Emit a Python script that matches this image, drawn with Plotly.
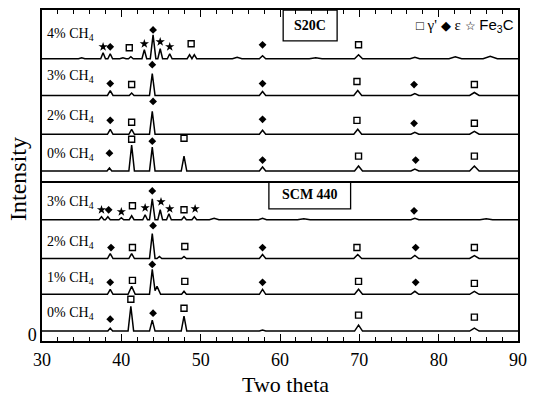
import plotly.graph_objects as go

# ---------------- data ----------------
x_range = [30, 90]
trace_labels = ["4% CH<sub>4</sub>", "3% CH<sub>4</sub>", "2% CH<sub>4</sub>", "0% CH<sub>4</sub>",
                "3% CH<sub>4</sub>", "2% CH<sub>4</sub>", "1% CH<sub>4</sub>", "0% CH<sub>4</sub>"]
trace_offsets = [278, 241, 202, 165, 116, 77, 41, 4]
label_offsets = [24, 19, 18, 17, 17, 16, 16, 18]

# peak positions (2theta), intensities and half widths of each pattern
s20c_4_pos = [35.0, 37.7, 38.6, 40.2, 41.2, 42.9, 44.0, 44.9, 46.1, 48.6, 49.2, 54.6, 57.8, 64.5, 69.9, 77.0, 82.1, 86.5]
s20c_4_int = [1, 6, 5, 1, 2, 9, 24, 10, 5, 4, 4, 1.5, 3, 1, 4, 1.5, 2, 2.5]
s20c_4_hw = [0.4, 0.3, 0.3, 0.4, 0.3, 0.3, 0.35, 0.3, 0.3, 0.3, 0.3, 0.6, 0.4, 0.8, 0.5, 0.6, 0.8, 0.9]

s20c_3_pos = [38.6, 41.3, 43.9, 57.8, 69.8, 77.0, 84.5]
s20c_3_int = [5, 2.5, 22, 4, 5, 2, 3]
s20c_3_hw = [0.35, 0.3, 0.35, 0.4, 0.5, 0.5, 0.6]

s20c_2_pos = [38.6, 41.3, 43.9, 57.8, 69.8, 77.0, 84.5]
s20c_2_int = [5, 5, 23, 4, 5, 2, 3]
s20c_2_hw = [0.35, 0.35, 0.35, 0.4, 0.5, 0.5, 0.6]

s20c_0_pos = [38.5, 41.3, 43.9, 47.9, 57.8, 69.9, 77.0, 84.5]
s20c_0_int = [3, 26, 24, 15, 4, 5, 2, 5]
s20c_0_hw = [0.3, 0.35, 0.35, 0.35, 0.4, 0.5, 0.5, 0.6]

scm_3_pos = [37.5, 38.3, 40.0, 41.3, 43.0, 43.9, 44.9, 46.0, 47.9, 49.2, 51.7, 57.8, 63.0, 77.0, 86.0]
scm_3_int = [3, 3, 2, 4, 5, 21, 10, 6, 3, 3, 1.5, 1.5, 1, 1.5, 1]
scm_3_hw = [0.3, 0.3, 0.3, 0.3, 0.3, 0.35, 0.3, 0.3, 0.3, 0.3, 0.6, 0.5, 0.8, 0.5, 0.8]

scm_2_pos = [38.6, 41.3, 43.9, 44.8, 47.9, 57.8, 69.8, 77.0, 84.5]
scm_2_int = [5, 5, 25, 2, 2, 4, 4, 3, 3]
scm_2_hw = [0.35, 0.35, 0.35, 0.3, 0.3, 0.4, 0.5, 0.5, 0.6]

scm_1_pos = [38.6, 41.3, 43.9, 44.5, 47.9, 57.8, 69.9, 77.0, 84.5]
scm_1_int = [5, 8, 25, 8, 3, 5, 5, 3, 3]
scm_1_hw = [0.35, 0.45, 0.35, 0.45, 0.3, 0.4, 0.5, 0.5, 0.6]

scm_0_pos = [38.6, 41.2, 43.9, 47.9, 57.8, 69.9, 84.5]
scm_0_int = [3, 25, 11, 15, 1, 6, 3]
scm_0_hw = [0.3, 0.35, 0.35, 0.35, 0.4, 0.5, 0.6]

# phase markers: position, phase (g = gamma', e = epsilon, c = Fe3C), height above the baseline
s20c_4_mk_pos = [37.7, 38.6, 41.0, 42.9, 44.0, 44.9, 46.1, 48.8, 57.8, 69.9]
s20c_4_mk_sym = ["c", "e", "g", "c", "e", "c", "c", "g", "e", "g"]
s20c_4_mk_h = [12, 12, 11, 15, 29, 17, 12, 15, 14, 14]

s20c_3_mk_pos = [38.6, 41.3, 43.9, 57.8, 69.7, 76.9, 84.5]
s20c_3_mk_sym = ["e", "g", "e", "e", "g", "e", "g"]
s20c_3_mk_h = [12, 11, 31, 12, 14, 11, 11]

s20c_2_mk_pos = [38.6, 41.3, 44.0, 57.8, 69.7, 76.9, 84.5]
s20c_2_mk_sym = ["e", "g", "e", "e", "g", "e", "g"]
s20c_2_mk_h = [14, 12, 33, 15, 14, 11, 11]

s20c_0_mk_pos = [38.5, 41.3, 43.9, 47.9, 57.8, 69.9, 77.1, 84.5]
s20c_0_mk_sym = ["e", "g", "e", "g", "e", "g", "e", "g"]
s20c_0_mk_h = [18, 32, 30, 33, 11, 15, 11, 15]

scm_3_mk_pos = [37.5, 38.4, 40.0, 41.4, 43.0, 43.9, 45.0, 46.1, 47.9, 49.3, 76.9]
scm_3_mk_sym = ["c", "e", "c", "g", "c", "e", "c", "c", "g", "c", "e"]
scm_3_mk_h = [10, 10, 8, 14, 12, 29, 18, 11, 10, 11, 9]

scm_2_mk_pos = [38.7, 41.4, 44.0, 48.0, 57.8, 69.7, 77.1, 84.5]
scm_2_mk_sym = ["e", "g", "e", "g", "e", "g", "e", "g"]
scm_2_mk_h = [11, 11, 33, 12, 11, 11, 11, 11]

scm_1_mk_pos = [38.6, 41.4, 43.9, 48.0, 57.8, 69.9, 77.1, 84.5]
scm_1_mk_sym = ["e", "g", "e", "g", "e", "g", "e", "g"]
scm_1_mk_h = [12, 14, 30, 13, 12, 13, 12, 11]

scm_0_mk_pos = [38.6, 41.2, 44.0, 47.9, 69.9, 84.5]
scm_0_mk_sym = ["e", "g", "e", "g", "g", "g"]
scm_0_mk_h = [12, 32, 18, 23, 16, 14]

patterns = [
    (s20c_4_pos, s20c_4_int, s20c_4_hw, s20c_4_mk_pos, s20c_4_mk_sym, s20c_4_mk_h),
    (s20c_3_pos, s20c_3_int, s20c_3_hw, s20c_3_mk_pos, s20c_3_mk_sym, s20c_3_mk_h),
    (s20c_2_pos, s20c_2_int, s20c_2_hw, s20c_2_mk_pos, s20c_2_mk_sym, s20c_2_mk_h),
    (s20c_0_pos, s20c_0_int, s20c_0_hw, s20c_0_mk_pos, s20c_0_mk_sym, s20c_0_mk_h),
    (scm_3_pos, scm_3_int, scm_3_hw, scm_3_mk_pos, scm_3_mk_sym, scm_3_mk_h),
    (scm_2_pos, scm_2_int, scm_2_hw, scm_2_mk_pos, scm_2_mk_sym, scm_2_mk_h),
    (scm_1_pos, scm_1_int, scm_1_hw, scm_1_mk_pos, scm_1_mk_sym, scm_1_mk_h),
    (scm_0_pos, scm_0_int, scm_0_hw, scm_0_mk_pos, scm_0_mk_sym, scm_0_mk_h),
]

separator_y = 154
y_range = [-6, 327]

SERIF = "Liberation Serif, Times New Roman, serif"

marker_style = {
    "g": dict(symbol="square-open", size=6, color="black", line=dict(width=1.4, color="black")),
    "e": dict(symbol="diamond", size=6, color="black", line=dict(width=0)),
    "c": dict(symbol="star", size=7, color="black", line=dict(width=0)),
}


def profile(pos, inten, hw):
    xs = set(x_range)
    for p, w in zip(pos, hw):
        xs.update([p - w, p, p + w])
    xs = sorted(x for x in xs if x_range[0] <= x <= x_range[1])
    ys = []
    for x in xs:
        v = 0.0
        for p, h, w in zip(pos, inten, hw):
            d = abs(x - p)
            if d < w:
                v += h * (1 - d / w)
        ys.append(v)
    return xs, ys


fig = go.Figure()

annotations = []
for (pos, inten, hw, mpos, msym, mh), off, lab, loff in zip(patterns, trace_offsets, trace_labels, label_offsets):
    xs, ys = profile(pos, inten, hw)
    fig.add_trace(go.Scatter(x=xs, y=[off + y for y in ys], mode="lines",
                             line=dict(color="black", width=1.5), showlegend=False, hoverinfo="skip"))
    for code in ["g", "e", "c"]:
        px = [p for p, s in zip(mpos, msym) if s == code]
        py = [off + h for h, s in zip(mh, msym) if s == code]
        if px:
            fig.add_trace(go.Scatter(x=px, y=py, mode="markers", marker=marker_style[code],
                                     showlegend=False, hoverinfo="skip"))
    annotations.append(dict(x=30.35, y=off + loff, xref="x", yref="y", text=lab, showarrow=False,
                            xanchor="left", yanchor="middle",
                            font=dict(family=SERIF, size=14, color="black")))

# sample boxes
annotations.append(dict(x=63.8, y=311.5, xref="x", yref="y", text="<b>S20C</b>", showarrow=False,
                        font=dict(family=SERIF, size=14, color="black")))
annotations.append(dict(x=63.8, y=141, xref="x", yref="y", text="<b>SCM 440</b>", showarrow=False,
                        font=dict(family=SERIF, size=14, color="black")))

# phase legend
annotations.append(dict(x=89.8, y=311, xref="x", yref="y", xanchor="right", yanchor="middle", showarrow=False,
                        text="<span style='font-size:13px'>□</span> γ' <span style='font-size:13px'>◆</span> ε "
                             "<span style='font-size:12px'>☆</span> "
                             "<span style='font-family:Liberation Sans'>Fe<sub>3</sub>C</span>",
                        font=dict(family=SERIF, size=15, color="black")))

# axis titles
annotations.append(dict(x=-0.05, y=0.49, xref="paper", yref="paper", text="Intensity", textangle=-90,
                        showarrow=False, xanchor="center", yanchor="middle",
                        font=dict(family=SERIF, size=24, color="black")))
annotations.append(dict(x=0.512, y=-0.132, xref="paper", yref="paper", text="Two theta",
                        showarrow=False, xanchor="center", yanchor="middle",
                        font=dict(family=SERIF, size=22, color="black")))

shapes = [
    dict(type="line", xref="x", yref="y", x0=30, x1=90, y0=separator_y, y1=separator_y,
         line=dict(color="black", width=2)),
    dict(type="rect", xref="x", yref="y", x0=60.4, x1=67.2, y0=296, y1=327,
         line=dict(color="black", width=1.3), fillcolor="white", layer="below"),
    dict(type="rect", xref="x", yref="y", x0=58.6, x1=68.9, y0=127, y1=separator_y,
         line=dict(color="black", width=1.3), fillcolor="white", layer="below"),
]

fig.update_layout(
    width=535, height=396,
    margin=dict(l=42, r=9, t=8, b=55),
    paper_bgcolor="white", plot_bgcolor="white",
    annotations=annotations, shapes=shapes,
    xaxis=dict(range=x_range, showline=True, linecolor="black", linewidth=1.5, mirror="ticks",
               ticks="inside", ticklen=7, tickwidth=1.2, tickcolor="black", tick0=30, dtick=10,
               minor=dict(dtick=2, ticks="inside", ticklen=4, tickwidth=1, tickcolor="black"),
               showgrid=False, zeroline=False, ticklabelstandoff=2,
               tickfont=dict(family=SERIF, size=18, color="black")),
    yaxis=dict(range=y_range, showline=True, linecolor="black", linewidth=1.5, mirror=True,
               ticks="", tickvals=[0], ticktext=["0"], showgrid=False, zeroline=False,
               tickfont=dict(family=SERIF, size=18, color="black")),
)

fig.write_html("out.html")
